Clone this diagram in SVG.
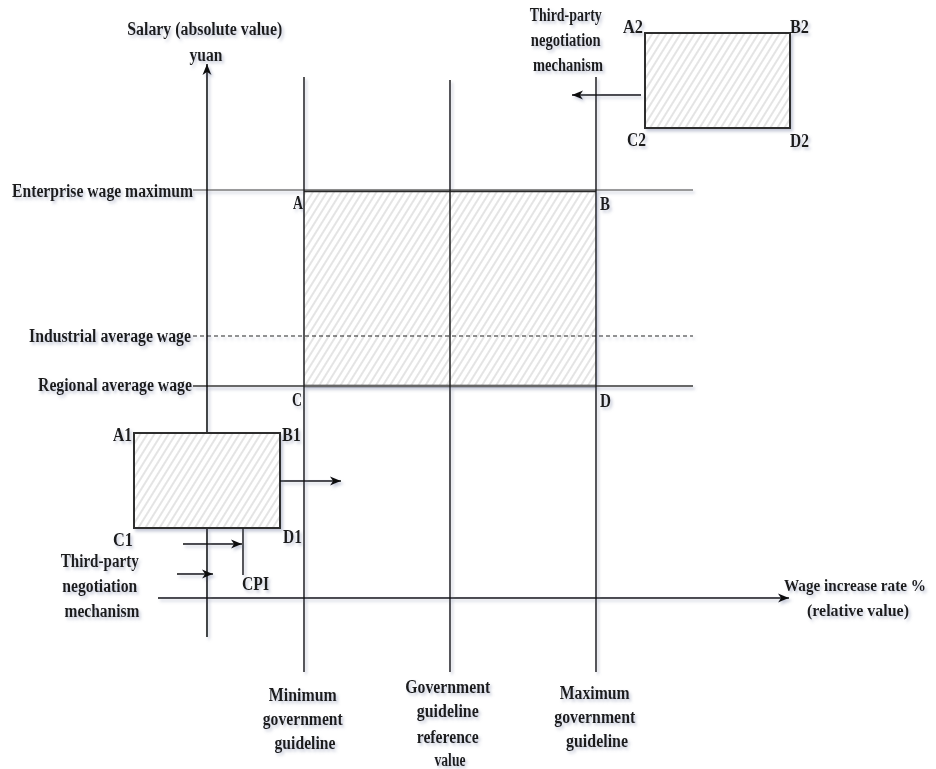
<svg xmlns="http://www.w3.org/2000/svg" width="936" height="769" viewBox="0 0 936 769">
  <defs>
    <style>
      .t{font-family:"Liberation Serif","Times New Roman",serif;font-weight:bold;font-size:18px;fill:#1c1c1c}
      .axis{stroke:#111;stroke-width:1.6;fill:none}
      .guide{stroke:#1e1e1e;stroke-width:1.5;fill:none}
      .level{stroke:#7a7a7a;stroke-width:1.3;fill:none}
      .edge{stroke:#2a2a2a;stroke-width:2.6;fill:none}
      .box{fill:url(#hatch);stroke:#2e2e2e;stroke-width:2}
      .arr{stroke:#111;stroke-width:1.6;fill:none;marker-end:url(#head)}
    </style>
    <pattern id="hatch" width="6" height="10" patternUnits="userSpaceOnUse" patternTransform="rotate(32)">
      <rect width="6" height="10" fill="#ffffff"/>
      <line x1="1" y1="0" x2="1" y2="10" stroke="#c9c9c9" stroke-width="1"/>
    </pattern>
    <marker id="head" markerUnits="userSpaceOnUse" markerWidth="12" markerHeight="10" refX="11" refY="5" orient="auto">
      <path d="M0,0.5 L11,5 L0,9.5 L3,5 z" fill="#111"/>
    </marker>
    <filter id="soft" x="-5%" y="-5%" width="110%" height="110%">
      <feDropShadow dx="2" dy="2.5" stdDeviation="1.6" flood-color="#7f87a8" flood-opacity="0.45"/>
    </filter>
  </defs>

  <rect width="936" height="769" fill="#ffffff"/>

  <g filter="url(#soft)">
    <!-- negotiated wage band between the minimum and maximum guidelines -->
    <g id="band">
      <rect x="304" y="191" width="292" height="195" fill="url(#hatch)"/>
      <line class="edge" x1="304" y1="191" x2="596" y2="191"/>
      <line class="edge" x1="304" y1="386" x2="596" y2="386"/>
    </g>

    <!-- horizontal wage levels -->
    <g id="enterprise-max">
      <line class="level" x1="193" y1="190" x2="693" y2="190"/>
      <text class="t" x="193" y="197" text-anchor="end" textLength="181" lengthAdjust="spacingAndGlyphs">Enterprise wage maximum</text>
    </g>
    <g id="industrial-avg">
      <line x1="193" y1="336" x2="693" y2="336" stroke="#222" stroke-width="1.2" stroke-dasharray="4 3"/>
      <text class="t" x="191" y="342" text-anchor="end" textLength="162" lengthAdjust="spacingAndGlyphs">Industrial average wage</text>
    </g>
    <g id="regional-avg">
      <line x1="193" y1="386" x2="693" y2="386" stroke="#686868" stroke-width="2.2"/>
      <text class="t" x="192" y="391" text-anchor="end" textLength="154" lengthAdjust="spacingAndGlyphs">Regional average wage</text>
    </g>

    <!-- government guidelines -->
    <g id="guide-min">
      <line class="guide" x1="304" y1="77" x2="304" y2="672"/>
      <text class="t" text-anchor="middle">
        <tspan x="305" y="701" textLength="68" lengthAdjust="spacingAndGlyphs">Minimum</tspan>
        <tspan x="305" y="725" textLength="80" lengthAdjust="spacingAndGlyphs">government</tspan>
        <tspan x="305" y="749" textLength="61" lengthAdjust="spacingAndGlyphs">guideline</tspan>
      </text>
    </g>
    <g id="guide-ref">
      <line class="guide" x1="450" y1="80" x2="450" y2="672"/>
      <text class="t" text-anchor="middle">
        <tspan x="450" y="693" textLength="85" lengthAdjust="spacingAndGlyphs">Government</tspan>
        <tspan x="450" y="717" textLength="62" lengthAdjust="spacingAndGlyphs">guideline</tspan>
        <tspan x="450" y="743" textLength="62" lengthAdjust="spacingAndGlyphs">reference</tspan>
        <tspan x="450" y="766" textLength="31" lengthAdjust="spacingAndGlyphs">value</tspan>
      </text>
    </g>
    <g id="guide-max">
      <line class="guide" x1="596" y1="77" x2="596" y2="672"/>
      <text class="t" text-anchor="middle">
        <tspan x="597" y="699" textLength="70" lengthAdjust="spacingAndGlyphs">Maximum</tspan>
        <tspan x="597" y="723" textLength="81" lengthAdjust="spacingAndGlyphs">government</tspan>
        <tspan x="597" y="747" textLength="62" lengthAdjust="spacingAndGlyphs">guideline</tspan>
      </text>
    </g>

    <!-- corner letters of the band -->
    <g id="corners">
      <text class="t" x="293" y="209" textLength="10" lengthAdjust="spacingAndGlyphs">A</text>
      <text class="t" x="600" y="210" textLength="10" lengthAdjust="spacingAndGlyphs">B</text>
      <text class="t" x="292" y="406" textLength="10" lengthAdjust="spacingAndGlyphs">C</text>
      <text class="t" x="600" y="407" textLength="11" lengthAdjust="spacingAndGlyphs">D</text>
    </g>

    <!-- axes -->
    <g id="axis-salary">
      <line class="axis" x1="207" y1="637" x2="207" y2="64" marker-end="url(#head)"/>
      <text class="t" text-anchor="middle">
        <tspan x="207" y="35" textLength="155" lengthAdjust="spacingAndGlyphs">Salary (absolute value)</tspan>
        <tspan x="206" y="61" textLength="33" lengthAdjust="spacingAndGlyphs">yuan</tspan>
      </text>
    </g>
    <g id="axis-rate">
      <line class="axis" x1="158" y1="598" x2="789" y2="598" marker-end="url(#head)"/>
      <text class="t" text-anchor="middle" style="font-size:16px">
        <tspan x="857" y="591" textLength="142" lengthAdjust="spacingAndGlyphs">Wage increase rate %</tspan>
        <tspan x="858" y="616" textLength="102" lengthAdjust="spacingAndGlyphs">(relative value)</tspan>
      </text>
    </g>

    <!-- lower-left bargaining box -->
    <g id="box-low">
      <rect class="box" x="134" y="433" width="146" height="95"/>
      <text class="t" x="113" y="441" textLength="19" lengthAdjust="spacingAndGlyphs">A1</text>
      <text class="t" x="282" y="441" textLength="19" lengthAdjust="spacingAndGlyphs">B1</text>
      <text class="t" x="113" y="546" textLength="20" lengthAdjust="spacingAndGlyphs">C1</text>
      <text class="t" x="283" y="543" textLength="19" lengthAdjust="spacingAndGlyphs">D1</text>
    </g>
    <g id="cpi">
      <line class="guide" x1="243" y1="528" x2="243" y2="575" stroke-width="1.3"/>
      <text class="t" x="242" y="590" textLength="27" lengthAdjust="spacingAndGlyphs">CPI</text>
    </g>
    <g id="mechanism-low">
      <text class="t" text-anchor="middle">
        <tspan x="102" y="567" textLength="78" lengthAdjust="spacingAndGlyphs">Third-party</tspan>
        <tspan x="102" y="592" textLength="75" lengthAdjust="spacingAndGlyphs">negotiation</tspan>
        <tspan x="102" y="617" textLength="75" lengthAdjust="spacingAndGlyphs">mechanism</tspan>
      </text>
    </g>

    <!-- upper-right bargaining box -->
    <g id="box-high">
      <rect class="box" x="645" y="33" width="145" height="95"/>
      <text class="t" x="623" y="33" textLength="20" lengthAdjust="spacingAndGlyphs">A2</text>
      <text class="t" x="790" y="33" textLength="19" lengthAdjust="spacingAndGlyphs">B2</text>
      <text class="t" x="627" y="146" textLength="19" lengthAdjust="spacingAndGlyphs">C2</text>
      <text class="t" x="790" y="147" textLength="19" lengthAdjust="spacingAndGlyphs">D2</text>
    </g>
    <g id="mechanism-high">
      <text class="t" text-anchor="middle">
        <tspan x="568" y="21" textLength="72" lengthAdjust="spacingAndGlyphs">Third-party</tspan>
        <tspan x="568" y="46" textLength="70" lengthAdjust="spacingAndGlyphs">negotiation</tspan>
        <tspan x="568" y="71" textLength="70" lengthAdjust="spacingAndGlyphs">mechanism</tspan>
      </text>
    </g>

    <!-- movement arrows -->
    <g id="connectors">
      <line class="arr" x1="280" y1="481" x2="341" y2="481"/>
      <line class="arr" x1="183" y1="544" x2="242" y2="544"/>
      <line class="arr" x1="177" y1="574" x2="213" y2="574"/>
      <line class="arr" x1="641" y1="95" x2="572" y2="95"/>
    </g>
  </g>
</svg>
